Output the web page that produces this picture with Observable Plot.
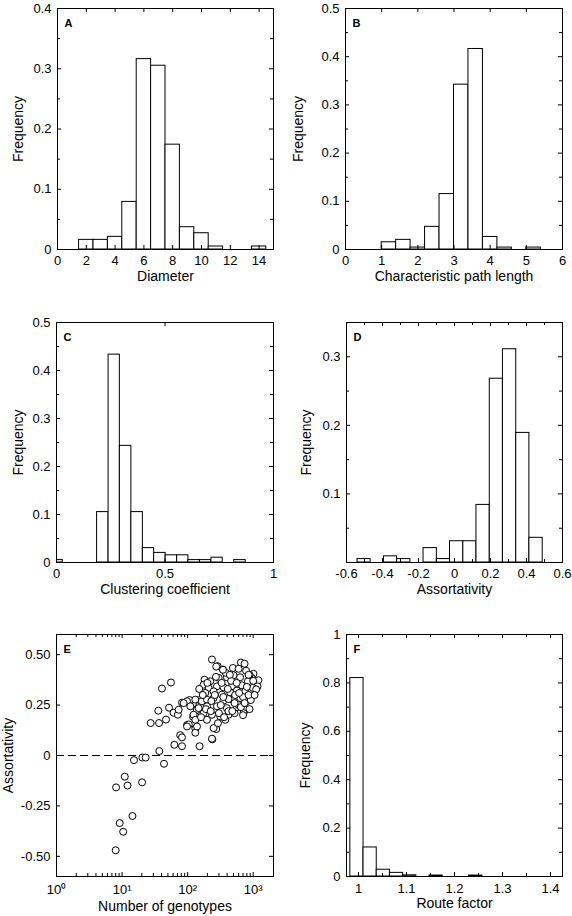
<!DOCTYPE html>
<html><head><meta charset="utf-8">
<script src="https://cdn.jsdelivr.net/npm/d3@7"></script>
<script src="https://cdn.jsdelivr.net/npm/@observablehq/plot@0.6"></script>
<style>
body{margin:0;background:#fff;}
#root{position:relative;width:572px;height:916px;overflow:hidden;background:#fff;}
#root svg{position:absolute;}
</style></head><body><div id="root"></div>
<script>
// ---- Panel A: Diameter ----
const diamEdges = [1.5,2.5,3.5,4.5,5.5,6.5,7.5,8.5,9.5,10.5,11.5,12.5,13.5,14.5];
const diamFreq  = [0.016,0.016,0.021,0.079,0.316,0.305,0.174,0.037,0.027,0.005,0,0,0.005];
const diamXTicks = [0,2,4,6,8,10,12,14];
const diamYTicks = [0,0.1,0.2,0.3,0.4];
const diamYMinor = [0.05,0.15,0.25,0.35];

// ---- Panel B: Characteristic path length ----
const pathEdges = [1.0,1.4,1.8,2.2,2.6,3.0,3.4,3.8,4.2,4.6,5.0,5.4];
const pathFreq  = [0.015,0.020,0.004,0.047,0.115,0.342,0.416,0.026,0.004,0,0.004];
const pathXTicks = [0,1,2,3,4,5,6];
const pathYTicks = [0,0.1,0.2,0.3,0.4,0.5];
const pathYMinor = [0.05,0.15,0.25,0.35,0.45];

// ---- Panel C: Clustering coefficient ----
const clustEdges = [-0.024,0.029,0.081,0.134,0.187,0.240,0.292,0.345,0.398,0.450,0.503,0.556,0.608,0.661,0.714,0.766,0.819,0.872];
const clustFreq  = [0.005,0,0,0,0.105,0.433,0.243,0.105,0.030,0.020,0.015,0.015,0.005,0.005,0.010,0,0.005];
const clustXTicks = [0,0.5,1];
const clustYTicks = [0,0.1,0.2,0.3,0.4,0.5];
const clustYMinor = [0.05,0.15,0.25,0.35,0.45];

// ---- Panel D: Assortativity histogram ----
const assortEdges = [-0.539,-0.466,-0.392,-0.319,-0.245,-0.172,-0.098,-0.025,0.049,0.122,0.196,0.269,0.343,0.416,0.490];
const assortFreq  = [0.005,0,0.009,0.005,0,0.021,0.005,0.031,0.031,0.084,0.268,0.311,0.189,0.036];
const assortXTicks = [-0.6,-0.4,-0.2,0,0.2,0.4,0.6];
const assortXMinor = [-0.5,-0.3,-0.1,0.1,0.3,0.5];
const assortYTicks = [0.1,0.2,0.3];
const assortYMinor = [0.05,0.15,0.25,0.35];

// ---- Panel E: Assortativity vs number of genotypes ----
const genotypes = [8.0,9.2,10.4,14.4,8.1,11.0,12.1,20.2,15.2,20.4,22.9,37,43.6,62.7,27.3,36.6,35.7,46.8,52,40.6,55.7,61,71,82,77,82,82,98,104,152,131,131,121,131,138,121,152,238,273,107,
  235,287,648,738,345,490,1010,1200,950,900,1165,181,221,297,397,502,632,830,175,209,280,353,473,672,988,186,249,333,446,564,755,900,131,165,197,249,353,490,634,801,98,87,110,147,197,280,397,564,755,123,175,235,314,421,713,131,197,375,249,139,98,235,73,1110,921,
  200,260,320,420,530,600,700,850,460,380,560,300,420,520,650,800,1000,880,330,270,230,170,150,190,600,440,700,780,1050,360,290,610,520,480,410,740,880,160,225,350,850,273,346];
const assortativity = [-0.470,-0.335,-0.378,-0.300,-0.158,-0.105,-0.149,-0.133,-0.023,-0.010,-0.010,0.022,-0.041,0.053,0.161,0.161,0.222,0.178,0.237,0.332,0.362,0.212,0.202,0.262,0.101,0.090,0.046,0.151,0.154,0.046,0.134,0.113,0.192,0.196,0.226,0.259,0.275,0.080,0.131,0.275,
  0.476,0.443,0.461,0.455,0.426,0.434,0.405,0.373,0.385,0.360,0.343,0.376,0.368,0.385,0.388,0.398,0.388,0.368,0.351,0.335,0.343,0.338,0.343,0.348,0.335,0.310,0.318,0.302,0.313,0.322,0.318,0.285,0.277,0.269,0.277,0.285,0.272,0.277,0.285,0.269,0.269,0.260,0.244,0.235,0.244,0.244,0.235,0.239,0.227,0.202,0.210,0.202,0.194,0.202,0.210,0.177,0.177,0.177,0.136,0.144,0.144,0.083,0.227,0.328,0.275,
  0.36,0.30,0.25,0.28,0.30,0.25,0.29,0.30,0.37,0.41,0.36,0.21,0.22,0.21,0.24,0.34,0.37,0.40,0.36,0.39,0.27,0.30,0.33,0.23,0.43,0.40,0.20,0.42,0.30,0.19,0.16,0.31,0.26,0.22,0.33,0.26,0.23,0.19,0.22,0.29,0.40,0.441,0.425];
const genoXTicks = [1,10,100,1000];
const genoXMinor = [2,3,4,5,6,7,8,9,20,30,40,50,60,70,80,90,200,300,400,500,600,700,800,900];
const genoYTicks = [-0.5,-0.25,0,0.25,0.5];

// ---- Panel F: Route factor ----
const routeEdges = [0.983,1.0105,1.038,1.0655,1.093,1.1205,1.148,1.1755,1.203,1.2305,1.258];
const routeFreq  = [0.82,0.12,0.028,0.015,0.005,0,0.004,0,0,0.004];
const routeXTicks = [1,1.1,1.2,1.3,1.4];
const routeXMinor = [1.05,1.15,1.25,1.35];
const routeYTicks = [0,0.2,0.4,0.6,0.8,1];
const routeYMinor = [0.1,0.3,0.5,0.7,0.9];

const FONT = "'Liberation Sans', Arial, Helvetica, sans-serif";
const hy = d => (d < 0 ? "-" + String(-d) : String(d));

function bars(edges, freq) {
  const idx = d3.range(freq.length).filter(i => freq[i] > 0);
  return Plot.rectY(idx, {x1: i => edges[i], x2: i => edges[i + 1], y: i => freq[i],
    fill: "white", stroke: "black", strokeWidth: 1, clip: true});
}

function panel(cfg) {
  const {left, top, width, height, frame: [fl, ft, fr, fb]} = cfg;
  const fw = fr - fl, fh = fb - ft;
  const L = 4, Lm = 3;
  const tickMarks = (xs, ys, len) => [
    Plot.tickX(xs, {x: d => d, insetTop: fh - len, stroke: "black"}),
    Plot.tickX(xs, {x: d => d, insetBottom: fh - len, stroke: "black"}),
    Plot.tickY(ys, {y: d => d, insetRight: fw - len, stroke: "black"}),
    Plot.tickY(ys, {y: d => d, insetLeft: fw - len, stroke: "black"})
  ];
  const svg = Plot.plot({
    width, height,
    marginLeft: fl - left, marginTop: ft - top,
    marginRight: left + width - fr, marginBottom: top + height - fb,
    style: {fontFamily: FONT, fontSize: "13px", color: "black", background: "transparent", overflow: "visible"},
    x: {...cfg.x},
    y: {...cfg.y},
    marks: [
      ...cfg.marks,
      ...tickMarks(cfg.xMajor, cfg.yMajor, L),
      ...tickMarks(cfg.xMinor || [], cfg.yMinor || [], Lm),
      Plot.frame({stroke: "black", strokeWidth: 1}),
      Plot.axisX(cfg.xMajor, {tickSize: 0, tickPadding: cfg.xPad ?? 6, tickFormat: cfg.xFormat ?? hy, fontSize: 13, label: null, fill: "black"}),
      Plot.axisY(cfg.yMajor, {tickSize: 0, tickPadding: 6, tickFormat: cfg.yFormat ?? hy, fontSize: 13, label: null, fill: "black"}),
      Plot.text([cfg.xLabel], {text: d => d, frameAnchor: "bottom", lineAnchor: "top", dy: cfg.xLabelDy ?? 22, fontSize: 14, fill: "black"}),
      Plot.text([cfg.yLabel], {text: d => d, frameAnchor: "left", lineAnchor: "top", rotate: -90, textAnchor: "middle", dx: cfg.yLabelDx, fontSize: 14, fill: "black"}),
      Plot.text([cfg.letter], {text: d => d, frameAnchor: "top-left", lineAnchor: "top", textAnchor: "start", dx: 7, dy: 11, fontSize: 11, fontWeight: "bold", fill: "black"})
    ]
  });
  svg.style.left = left + "px";
  svg.style.top = top + "px";
  document.getElementById("root").appendChild(svg);
}

panel({left: 0, top: 0, width: 286, height: 290, frame: [57, 8, 273, 249],
  x: {domain: [0, 15]}, y: {domain: [0, 0.4]},
  xMajor: diamXTicks, yMajor: diamYTicks, yMinor: diamYMinor,
  marks: [bars(diamEdges, diamFreq)], xLabel: "Diameter", yLabel: "Frequency", yLabelDx: -44, letter: "A"});

panel({left: 286, top: 0, width: 286, height: 290, frame: [345, 8, 562, 249],
  x: {domain: [0, 6]}, y: {domain: [0, 0.5]},
  xMajor: pathXTicks, yMajor: pathYTicks, yMinor: pathYMinor,
  marks: [bars(pathEdges, pathFreq)], xLabel: "Characteristic path length", yLabel: "Frequency", yLabelDx: -52, letter: "B"});

panel({left: 0, top: 290, width: 286, height: 310, frame: [56, 322, 273, 562],
  x: {domain: [0, 1]}, y: {domain: [0, 0.5]},
  xMajor: clustXTicks, yMajor: clustYTicks, yMinor: clustYMinor,
  marks: [bars(clustEdges, clustFreq)], xLabel: "Clustering coefficient", yLabel: "Frequency", yLabelDx: -43, letter: "C"});

panel({left: 286, top: 290, width: 286, height: 310, frame: [346, 322, 562, 562],
  x: {domain: [-0.6, 0.6]}, y: {domain: [0, 0.35]},
  xMajor: assortXTicks, xMinor: assortXMinor, yMajor: assortYTicks, yMinor: assortYMinor,
  marks: [bars(assortEdges, assortFreq)], xLabel: "Assortativity", yLabel: "Frequency", yLabelDx: -45, letter: "D"});

const sup = {"0": "\u2070", "1": "\u00b9", "2": "\u00b2", "3": "\u00b3"};
panel({left: 0, top: 600, width: 286, height: 316, frame: [56, 634, 273, 876],
  x: {type: "log", domain: [1, 2040]}, y: {domain: [-0.6, 0.6]},
  xFormat: d => "10" + sup[String(Math.round(Math.log10(d)))], xPad: 8,
  yFormat: d => d === 0 ? "0" : (d < 0 ? "-" + (-d).toFixed(2) : d.toFixed(2)),
  xMajor: genoXTicks, xMinor: genoXMinor, yMajor: genoYTicks,
  marks: [
    Plot.ruleY([0], {stroke: "black", strokeWidth: 1, strokeDasharray: "8,4"}),
    Plot.dot(d3.range(genotypes.length), {x: i => genotypes[i], y: i => assortativity[i], r: 3.5, fill: "white", stroke: "black", strokeWidth: 1})
  ],
  xLabel: "Number of genotypes", xLabelDy: 25, yLabel: "Assortativity", yLabelDx: -53, letter: "E"});

panel({left: 286, top: 600, width: 286, height: 316, frame: [346, 634, 562, 876],
  x: {domain: [0.975, 1.425]}, xPad: 7, y: {domain: [0, 1]},
  xMajor: routeXTicks, xMinor: routeXMinor, yMajor: routeYTicks, yMinor: routeYMinor,
  marks: [bars(routeEdges, routeFreq)], xLabel: "Route factor", yLabel: "Frequency", yLabelDx: -46, letter: "F"});
</script>
</body></html>
